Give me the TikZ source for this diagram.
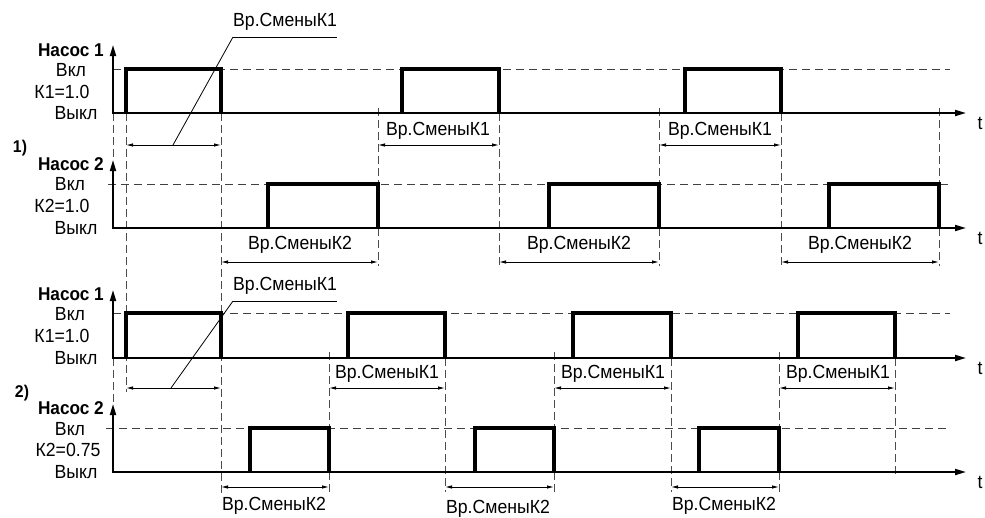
\documentclass[tikz,border=0pt]{standalone}
\usepackage{fontspec}
\setmainfont{Liberation Sans}[FakeStretch=0.93]
\usepackage{tikz}
\usetikzlibrary{arrows.meta}

\begin{document}
\begin{tikzpicture}[x=1pt,y=-1pt,
      axis/.style={line width=1.8pt,{Triangle[length=11pt,width=6pt]}-{Triangle[length=11pt,width=6pt]}},
      pulse/.style={line width=3.2pt,line join=miter},
      level/.style={black!75,line width=0.9pt,dash pattern=on 8pt off 5pt},
      guide/.style={black!70,line width=0.9pt,dash pattern=on 8pt off 4pt},
      dim/.style={line width=0.9pt,{Latex[length=7pt,width=3.5pt]}-{Latex[length=7pt,width=3.5pt]}},
      lbl/.style={font=\fontsize{19}{22}\selectfont,inner sep=0pt},
      ttl/.style={font=\fontsize{18.5}{22}\selectfont\bfseries,inner sep=0pt,anchor=east},
      num/.style={font=\fontsize{17}{20}\selectfont\bfseries,inner sep=0pt},
      lead/.style={lbl,anchor=south west,inner ysep=6pt}
]
\useasboundingbox (0,0) rectangle (985,517);

\draw[level] (113,69) -- (950,69);
\draw[level] (108,184) -- (950,184);
\draw[level] (113,313) -- (950,313);
\draw[level] (106,428) -- (950,428);

\draw[guide] (113,113) -- (113,158);
\draw[guide] (126,113) -- (126,392);
\draw[guide] (221,113) -- (221,493);
\draw[guide] (378,108) -- (378,266);
\draw[guide] (499,113) -- (499,266);
\draw[guide] (659,108) -- (659,266);
\draw[guide] (781,113) -- (781,266);
\draw[guide] (939,108) -- (939,266);
\draw[guide] (113,358) -- (113,402);
\draw[guide] (329,352) -- (329,492);
\draw[guide] (445,358) -- (445,492);
\draw[guide] (554,352) -- (554,492);
\draw[guide] (671,358) -- (671,492);
\draw[guide] (779,352) -- (779,492);
\draw[guide] (895,358) -- (895,475);

\draw[axis] (113,45) |- (966,113);
\draw[axis] (113,160) |- (966,228);
\draw[axis] (113,290) |- (966,358);
\draw[axis] (113,404) |- (966,472);

\draw[pulse] (126,113) |- (221,69) -- (221,113);
\draw[pulse] (402,113) |- (499,69) -- (499,113);
\draw[pulse] (685,113) |- (781,69) -- (781,113);
\draw[pulse] (268,228) |- (378,184) -- (378,228);
\draw[pulse] (549,228) |- (659,184) -- (659,228);
\draw[pulse] (829,228) |- (939,184) -- (939,228);
\draw[pulse] (126,358) |- (221,313) -- (221,358);
\draw[pulse] (348,358) |- (445,313) -- (445,358);
\draw[pulse] (573,358) |- (671,313) -- (671,358);
\draw[pulse] (798,358) |- (895,313) -- (895,358);
\draw[pulse] (250,472) |- (329,428) -- (329,472);
\draw[pulse] (475,472) |- (554,428) -- (554,472);
\draw[pulse] (699,472) |- (779,428) -- (779,472);

\draw[dim] (126,145) -- (221,145);
\draw[dim] (378,145) -- (499,145);
\draw[dim] (659,145) -- (781,145);
\draw[dim] (221,262) -- (378,262);
\draw[dim] (499,262) -- (659,262);
\draw[dim] (781,262) -- (939,262);
\draw[dim] (126,388) -- (221,388);
\draw[dim] (329,388) -- (445,388);
\draw[dim] (554,388) -- (671,388);
\draw[dim] (779,388) -- (895,388);
\draw[dim] (221,487) -- (329,487);
\draw[dim] (445,487) -- (554,487);
\draw[dim] (671,487) -- (779,487);

\node[ttl] (pumpa) at (104,50) {Насос 1};
\node[lbl] (ona) at (71,70) {Вкл};
\node[lbl] (ka) at (62,92) {К1=1.0};
\node[lbl] (offa) at (76,113) {Выкл};
\node[num] (casea) at (20,148) {1)};
\node[ttl] (pumpb) at (104,164) {Насос 2};
\node[lbl] (onb) at (70,184) {Вкл};
\node[lbl] (kb) at (62,206) {К2=1.0};
\node[lbl] (offb) at (76,228) {Выкл};
\node[ttl] (pumpc) at (104,294) {Насос 1};
\node[lbl] (onc) at (70,314) {Вкл};
\node[lbl] (kc) at (62,336) {К1=1.0};
\node[lbl] (offc) at (76,358) {Выкл};
\node[num] (caseb) at (22,393) {2)};
\node[ttl] (pumpd) at (104,408) {Насос 2};
\node[lbl] (ond) at (70,429) {Вкл};
\node[lbl] (kd) at (68,450) {К2=0.75};
\node[lbl] (offd) at (76,472) {Выкл};

\node[lbl] (ta) at (980,123) {t};
\node[lbl] (tb) at (980,238) {t};
\node[lbl] (tc) at (980,368) {t};
\node[lbl] (td) at (980,482) {t};

\node[lead] (leada) at (233,37) {Вр.СменыК1};
\draw[line width=0.8pt] (leada.south west) -- (leada.south east);
\draw[line width=0.8pt] (leada.south west) -- (173,145);
\node[lbl] (sa2) at (438,131) {Вр.СменыК1};
\node[lbl] (sa3) at (720,131) {Вр.СменыК1};
\node[lbl] (sb1) at (300,245) {Вр.СменыК2};
\node[lbl] (sb2) at (579,245) {Вр.СменыК2};
\node[lbl] (sb3) at (860,245) {Вр.СменыК2};
\node[lead] (leadc) at (233,301) {Вр.СменыК1};
\draw[line width=0.8pt] (leadc.south west) -- (leadc.south east);
\draw[line width=0.8pt] (leadc.south west) -- (171,388);
\node[lbl] (sc2) at (387,374) {Вр.СменыК1};
\node[lbl] (sc3) at (613,374) {Вр.СменыК1};
\node[lbl] (sc4) at (838,374) {Вр.СменыК1};
\node[lbl] (sd1) at (274,506) {Вр.СменыК2};
\node[lbl] (sd2) at (498,509) {Вр.СменыК2};
\node[lbl] (sd3) at (724,506) {Вр.СменыК2};
\end{tikzpicture}
\end{document}
